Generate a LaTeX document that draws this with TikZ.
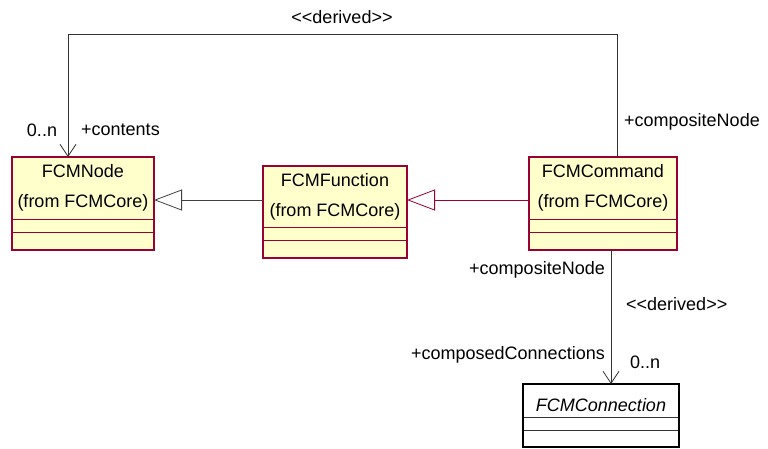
\documentclass[tikz,border=0pt]{standalone}
\usepackage{fontspec}
\setmainfont{Liberation Sans}[Ligatures=TeXOff]
\usetikzlibrary{arrows.meta,positioning}
\definecolor{classfill}{RGB}{255,255,204}
\definecolor{classline}{RGB}{153,0,51}
\tikzset{
    umlname/.style = {draw=classline, fill=classfill, line width=0.6pt, outer sep=0pt,
        inner sep=0pt, align=center, font=\fontsize{18}{30}\selectfont,
        execute at begin node=\rule{0pt}{22pt}},
    umlpart/.style = {draw=classline, fill=classfill, line width=0.6pt, outer sep=0pt, inner sep=0pt},
    umlframe/.style = {draw=classline, line width=1.1pt},
    lbl/.style = {inner sep=0pt, font=\fontsize{18}{21}\selectfont},
    inherit/.style = {draw=black!75, line width=0.8pt,
        -{Triangle[length=28pt, width=21pt, fill=white]}},
    inheritred/.style = {inherit, draw=classline},
    assoc/.style = {draw=black!80, line width=0.8pt, -{Straight Barb[length=12pt, width=16pt]}}
}
\begin{document}
\begin{tikzpicture}[x=1pt, y=-1pt]
    \useasboundingbox (0,0) rectangle (768,448);
    % classes
    \node[umlname, minimum width=142pt, minimum height=62pt, anchor=north] (fcmnode) at (83,157) {FCMNode\\(from FCMCore)};
    \node[umlpart, minimum width=142pt, minimum height=13pt, below=0pt of fcmnode] (fcmnode-att) {};
    \node[umlpart, minimum width=142pt, minimum height=18pt, below=0pt of fcmnode-att] (fcmnode-op) {};
    \draw[umlframe] (fcmnode.north west) rectangle (fcmnode-op.south east);

    \node[umlname, minimum width=144pt, minimum height=61pt, anchor=north] (fcmfun) at (335,166) {FCMFunction\\(from FCMCore)};
    \node[umlpart, minimum width=144pt, minimum height=13pt, below=0pt of fcmfun] (fcmfun-att) {};
    \node[umlpart, minimum width=144pt, minimum height=18pt, below=0pt of fcmfun-att] (fcmfun-op) {};
    \draw[umlframe] (fcmfun.north west) rectangle (fcmfun-op.south east);

    \node[umlname, minimum width=148pt, minimum height=62pt, anchor=north] (fcmcmd) at (603,157) {FCMCommand\\(from FCMCore)};
    \node[umlpart, minimum width=148pt, minimum height=13pt, below=0pt of fcmcmd] (fcmcmd-att) {};
    \node[umlpart, minimum width=148pt, minimum height=18pt, below=0pt of fcmcmd-att] (fcmcmd-op) {};
    \draw[umlframe] (fcmcmd.north west) rectangle (fcmcmd-op.south east);

    \node[umlname, draw=black!80, fill=white, minimum width=156pt, minimum height=33pt, anchor=north,
        font=\fontsize{18}{30}\selectfont\itshape, execute at begin node=\rule{0pt}{17pt}] (fcmconn) at (601,384) {FCMConnection};
    \node[umlpart, draw=black!80, fill=white, minimum width=156pt, minimum height=13pt, below=0pt of fcmconn] (fcmconn-att) {};
    \node[umlpart, draw=black!80, fill=white, minimum width=156pt, minimum height=17pt, below=0pt of fcmconn-att] (fcmconn-op) {};
    \draw[umlframe, draw=black] (fcmconn.north west) rectangle (fcmconn-op.south east);

    % generalizations
    \coordinate (genrow) at (0,200);
    \draw[inherit] (fcmfun.west |- genrow) -- (fcmnode.east |- genrow);
    \draw[inheritred] (fcmcmd.west |- genrow) -- (fcmfun.east |- genrow);

    % associations
    \coordinate (topline) at (0,34);
    \draw[assoc] ([xshift=14pt]fcmcmd.north) -- ([xshift=14pt]fcmcmd.north |- topline)
        -| ([xshift=-15pt]fcmnode.north);
    \draw[assoc] ([xshift=8pt]fcmcmd-op.south) -- ([xshift=8pt]fcmcmd-op.south |- fcmconn.north);

    % labels
    \node[lbl] (derived-top) at (342,17) {<<derived>>};
    \node[lbl] (many-node) at (42,130) {0..n};
    \node[lbl, anchor=west] (role-contents) at (81,130) {+contents};
    \node[lbl, anchor=west] (role-comp-top) at (624,122) {+compositeNode};
    \node[lbl, anchor=east] (role-comp-bot) at (605,270) {+compositeNode};
    \node[lbl, anchor=west] (derived-bot) at (626,304) {<<derived>>};
    \node[lbl, anchor=east] (role-composed) at (605,355) {+composedConnections};
    \node[lbl, anchor=west] (many-conn) at (630,362) {0..n};
\end{tikzpicture}
\end{document}
